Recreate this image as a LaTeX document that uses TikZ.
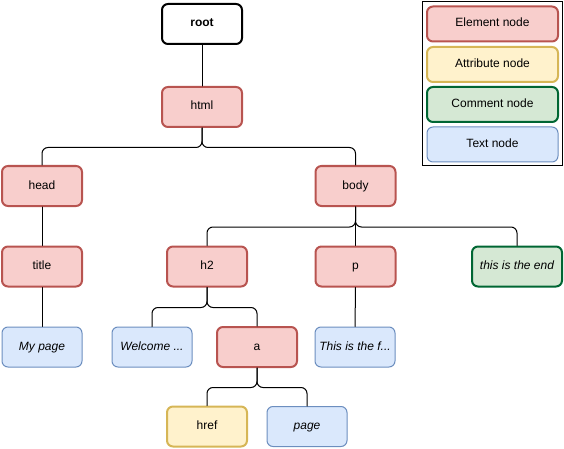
\documentclass[tikz,border=0pt]{standalone}
\usepackage{fontspec}
\setmainfont{Liberation Sans}
\definecolor{elemfill}{HTML}{F8CECC}
\definecolor{elemdraw}{HTML}{B85450}
\definecolor{attrfill}{HTML}{FFF2CC}
\definecolor{attrdraw}{HTML}{D6B656}
\definecolor{commfill}{HTML}{D5E8D4}
\definecolor{commdraw}{HTML}{006633}
\definecolor{textfill}{HTML}{DAE8FC}
\definecolor{textdraw}{HTML}{6C8EBF}

\begin{document}
\begin{tikzpicture}[x=1pt,y=-1pt,line cap=round,font=\fontsize{12}{14}\selectfont]
	\tikzstyle{box}=[rectangle,rounded corners=6pt,minimum width=80pt,minimum height=40pt,inner sep=2pt,text height=8.5pt,text depth=2.5pt];
	\tikzstyle{elem}=[box,line width=2pt,draw=elemdraw,fill=elemfill];
	\tikzstyle{attr}=[box,line width=2pt,draw=attrdraw,fill=attrfill];
	\tikzstyle{comm}=[box,line width=2pt,draw=commdraw,fill=commfill];
	\tikzstyle{txt}=[box,line width=1pt,draw=textdraw,fill=textfill];
	\tikzstyle{slant}=[font=\fontsize{12}{14}\selectfont\itshape];
	\tikzstyle{key}=[minimum width=131pt,minimum height=35pt];
	\tikzstyle{edge}=[line width=1pt,rounded corners=6pt];

	\useasboundingbox (0,0) rectangle (564,449);

	% legend
	\draw[line width=1pt] (422,2) rectangle (562,166);
	\node[elem,key] (keyelem) at (492.5,24) {Element node};
	\node[attr,key] (keyattr) at (492.5,64.5) {Attribute node};
	\node[comm,key] (keycomm) at (492.5,104.5) {Comment node};
	\node[txt,key] (keytext) at (492.5,144.5) {Text node};

	% tree
	\node[box,line width=2pt,draw=black,fill=white,font=\fontsize{12}{14}\selectfont\bfseries] (root) at (202,24) {root};
	\node[elem] (html) at (202,107) {html};
	\node[elem] (head) at (42,186) {head};
	\node[elem] (body) at (355.5,186) {body};
	\node[elem] (title) at (42,266.5) {title};
	\node[elem] (h2) at (207,266.5) {h2};
	\node[elem] (p) at (355.5,266.5) {p};
	\node[comm,slant,minimum width=90pt] (end) at (517,266.5) {this is the end};
	\node[txt,slant] (mypage) at (42,347) {My page};
	\node[txt,slant] (welcome) at (152,347) {Welcome ...};
	\node[elem] (a) at (257,347) {a};
	\node[txt,slant] (ptext) at (355,347) {This is the f...};
	\node[attr] (href) at (207,426.5) {href};
	\node[txt,slant] (page) at (307,426.5) {page};

	\draw[edge] (root) -- (html);
	\draw[edge] (html.south) -- ++(0,19.5) -| (head.north);
	\draw[edge] (html.south) -- ++(0,19.5) -| (body.north);
	\draw[edge] (head) -- (title);
	\draw[edge] (title) -- (mypage);
	\draw[edge] (body.south) -- ++(0,20) -| (h2.north);
	\draw[edge] (body) -- (p);
	\draw[edge] (body.south) -- ++(0,20) -| (end.north);
	\draw[edge] (h2.south) -- ++(0,20) -| (welcome.north);
	\draw[edge] (h2.south) -- ++(0,20) -| (a.north);
	\draw[edge] (p) -- (ptext);
	\draw[edge] (a.south) -- ++(0,19.5) -| (href.north);
	\draw[edge] (a.south) -- ++(0,19.5) -| (page.north);
\end{tikzpicture}
\end{document}
